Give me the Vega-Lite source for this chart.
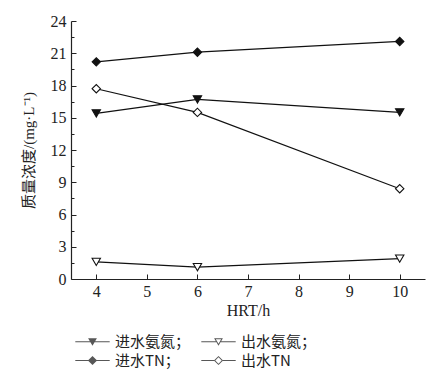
{
  "$schema": "https://vega.github.io/schema/vega-lite/v6.json",
  "width": 354,
  "height": 258,
  "autosize": {"type": "none"},
  "padding": {"left": 71, "top": 21, "right": 20, "bottom": 100},
  "background": "white",
  "config": {
    "view": {"stroke": null},
    "font": "Liberation Serif",
    "axis": {"labelFont": "Liberation Serif", "titleFont": "Liberation Serif", "labelColor": "#222", "titleColor": "#222", "domainColor": "#222", "tickColor": "#222", "grid": false}
  },
  "data": {"values": [
    {"hrt": 4, "value": 15.4, "series": "进水氨氮"},
    {"hrt": 6, "value": 16.7, "series": "进水氨氮"},
    {"hrt": 10, "value": 15.5, "series": "进水氨氮"},
    {"hrt": 4, "value": 1.6, "series": "出水氨氮"},
    {"hrt": 6, "value": 1.1, "series": "出水氨氮"},
    {"hrt": 10, "value": 1.9, "series": "出水氨氮"},
    {"hrt": 4, "value": 20.2, "series": "进水TN"},
    {"hrt": 6, "value": 21.1, "series": "进水TN"},
    {"hrt": 10, "value": 22.1, "series": "进水TN"},
    {"hrt": 4, "value": 17.7, "series": "出水TN"},
    {"hrt": 6, "value": 15.5, "series": "出水TN"},
    {"hrt": 10, "value": 8.4, "series": "出水TN"}
  ]},
  "encoding": {
    "x": {"field": "hrt", "type": "quantitative", "scale": {"domain": [3.5, 10.5], "nice": false, "zero": false},
      "axis": {"values": [4,5,6,7,8,9,10], "title": "HRT/h", "titleFontSize": 16, "titleFontWeight": "normal", "labelFontSize": 16, "tickSize": -5, "labelPadding": 9, "titlePadding": 3, "domainWidth": 1.2}},
    "y": {"field": "value", "type": "quantitative", "scale": {"domain": [0, 24], "nice": false},
      "axis": {"values": [0,1.5,3,4.5,6,7.5,9,10.5,12,13.5,15,16.5,18,19.5,21,22.5,24],
        "labelExpr": "datum.value % 3 == 0 ? datum.label : ''",
        "tickSize": {"condition": {"test": "datum.value % 3 == 0", "value": -5}, "value": -3},
        "title": "质量浓度/(mg·L⁻¹)", "titleFont": "Liberation Serif, Noto Sans CJK SC", "titleFontSize": 15, "titleFontWeight": "normal", "labelFontSize": 16, "labelPadding": 10, "titlePadding": 14, "domainWidth": 1.2}}
  },
  "layer": [
    {
      "mark": {"type": "line", "color": "#111", "strokeWidth": 1.2},
      "encoding": {"detail": {"field": "series"}}
    },
    {
      "mark": {"type": "point", "filled": true, "stroke": "#111", "strokeWidth": 1.1, "size": 70, "opacity": 1},
      "encoding": {
        "shape": {"field": "series", "type": "nominal", "legend": null,
          "scale": {"domain": ["进水氨氮","出水氨氮","进水TN","出水TN"], "range": ["triangle-down","triangle-down","diamond","diamond"]}},
        "fill": {"field": "series", "type": "nominal", "legend": null,
          "scale": {"domain": ["进水氨氮","出水氨氮","进水TN","出水TN"], "range": ["#111","white","#111","white"]}}
      }
    },
    {
      "transform": [{"filter": "false"}],
      "mark": {"type": "point", "filled": true, "fill": "#111", "stroke": "#111", "strokeWidth": 1.1, "size": 64},
      "encoding": {
        "shape": {"field": "series", "type": "nominal", "sort": ["进水氨氮","出水氨氮","进水TN","出水TN"],
          "scale": {"domain": ["进水氨氮","出水氨氮","进水TN","出水TN"],
            "range": [
              "M-4.3,-0.14L4.3,-0.14L4.3,0.14L-4.3,0.14ZM-1.1,-0.9L1.1,-0.9L0,1Z",
              "M-4.3,-0.14L-0.58,-0.14L-0.58,0.14L-4.3,0.14ZM0.58,-0.14L4.3,-0.14L4.3,0.14L0.58,0.14ZM-1.1,-0.9L1.1,-0.9L0,1ZM-0.667,-0.65L0,0.501L0.667,-0.65Z",
              "M-4.3,-0.14L4.3,-0.14L4.3,0.14L-4.3,0.14ZM0,-1.15L1.15,0L0,1.15L-1.15,0Z",
              "M-4.3,-0.14L-1.1,-0.14L-1.1,0.14L-4.3,0.14ZM1.1,-0.14L4.3,-0.14L4.3,0.14L1.1,0.14ZM0,-1.15L1.15,0L0,1.15L-1.15,0ZM0,-0.796L-0.796,0L0,0.796L0.796,0Z"
            ]},
          "legend": {"orient": "bottom", "direction": "horizontal", "columns": 2, "title": null, "labelFont": "Noto Sans CJK SC", "labelFontSize": 15, "labelColor": "#222", "symbolStrokeColor": "#111", "symbolFillColor": "#111", "symbolStrokeWidth": 1.1, "symbolSize": 64, "offset": 16, "rowPadding": 3, "columnPadding": 6, "labelOffset": 15, "symbolOffset": 14,
            "labelExpr": "datum.label == '出水TN' ? datum.label : datum.label + '；'"}}
      }
    }
  ],
  "resolve": {"scale": {"shape": "independent"}}
}
